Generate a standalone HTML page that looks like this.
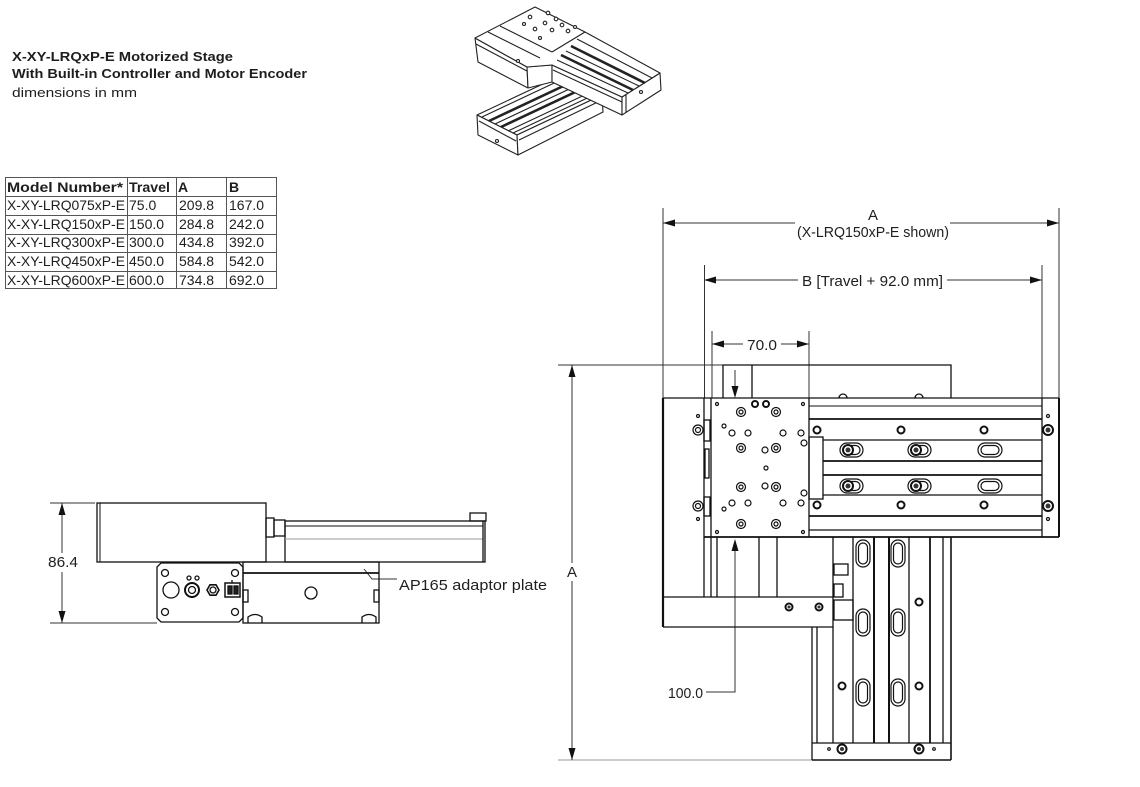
<!DOCTYPE html>
<html><head><meta charset="utf-8"><style>
html,body{margin:0;padding:0;background:#fff;}
svg{display:block;}
text{font-family:"Liberation Sans",sans-serif;fill:#1e1e1e;}
</style></head><body>
<svg width="1140" height="787" viewBox="0 0 1140 787" xmlns="http://www.w3.org/2000/svg">
<rect width="1140" height="787" fill="#fff"/>

<!-- Title -->
<text x="12" y="61" font-size="13" font-weight="bold" textLength="221" lengthAdjust="spacingAndGlyphs">X-XY-LRQxP-E  Motorized Stage</text>
<text x="12" y="78" font-size="13" font-weight="bold" textLength="295" lengthAdjust="spacingAndGlyphs">With Built-in Controller and Motor Encoder</text>
<text x="12" y="97" font-size="13" fill="#333" textLength="125" lengthAdjust="spacingAndGlyphs">dimensions in mm</text>

<!-- Table -->
<g stroke="#555" stroke-width="1" fill="none">
<rect x="5.5" y="177.5" width="271" height="111"/>
<line x1="127.5" y1="177" x2="127.5" y2="289"/>
<line x1="176.5" y1="177" x2="176.5" y2="289"/>
<line x1="226.5" y1="177" x2="226.5" y2="289"/>
<line x1="5" y1="196.5" x2="277" y2="196.5"/>
<line x1="5" y1="215.5" x2="277" y2="215.5"/>
<line x1="5" y1="234.5" x2="277" y2="234.5"/>
<line x1="5" y1="252.5" x2="277" y2="252.5"/>
<line x1="5" y1="271.5" x2="277" y2="271.5"/>
</g>
<g font-size="14">
<text x="7" y="192" font-weight="bold" textLength="116" lengthAdjust="spacingAndGlyphs">Model Number*</text>
<text x="129" y="192" font-weight="bold" textLength="41" lengthAdjust="spacingAndGlyphs">Travel</text>
<text x="178" y="192" font-weight="bold">A</text>
<text x="229" y="192" font-weight="bold">B</text>

<text x="7" y="210" textLength="118" lengthAdjust="spacingAndGlyphs">X-XY-LRQ075xP-E</text>
<text x="129" y="210">75.0</text><text x="179" y="210">209.8</text><text x="229" y="210">167.0</text>
<text x="7" y="229" textLength="118" lengthAdjust="spacingAndGlyphs">X-XY-LRQ150xP-E</text>
<text x="129" y="229">150.0</text><text x="179" y="229">284.8</text><text x="229" y="229">242.0</text>
<text x="7" y="247" textLength="118" lengthAdjust="spacingAndGlyphs">X-XY-LRQ300xP-E</text>
<text x="129" y="247">300.0</text><text x="179" y="247">434.8</text><text x="229" y="247">392.0</text>
<text x="7" y="266" textLength="118" lengthAdjust="spacingAndGlyphs">X-XY-LRQ450xP-E</text>
<text x="129" y="266">450.0</text><text x="179" y="266">584.8</text><text x="229" y="266">542.0</text>
<text x="7" y="285" textLength="118" lengthAdjust="spacingAndGlyphs">X-XY-LRQ600xP-E</text>
<text x="129" y="285">600.0</text><text x="179" y="285">734.8</text><text x="229" y="285">692.0</text>
</g>

<!-- 3D isometric view -->
<g stroke="#222" stroke-width="1.1" fill="#fff" stroke-linejoin="round">
<!-- Y stage -->
<polygon points="477,115 517,135 602,95 562,75"/>
<polygon points="477,115 517,135 518,155 478,135"/>
<polygon points="517,135 602,95 603,112 518,155"/>
<line x1="482" y1="117" x2="567" y2="77"/>
<line x1="489" y1="121" x2="574" y2="81" stroke-width="2.6"/>
<line x1="495" y1="124" x2="580" y2="84"/>
<line x1="501" y1="127" x2="586" y2="87" stroke-width="2.6"/>
<line x1="508" y1="131" x2="593" y2="91"/>
<line x1="513" y1="133" x2="598" y2="93"/>
<line x1="479" y1="121" x2="516" y2="141"/>
<line x1="519" y1="140" x2="602" y2="100"/>
<circle cx="497" cy="141" r="1.5"/>
<!-- X stage -->
<polygon points="475,38 527,67 528,88 478,62"/>
<polygon points="527,67 552,65 552,82 528,88"/>
<polygon points="552,65 622,97 622,115 552,82"/>
<polygon points="622,97 660,73 661,90 622,115"/>
<polygon points="475,38 535,7 585,32 660,73 622,97 552,65 527,67"/>
<line x1="557" y1="60" x2="628" y2="93"/>
<line x1="561" y1="55" x2="633" y2="90" stroke-width="2.6"/>
<line x1="566" y1="51" x2="639" y2="86"/>
<line x1="571" y1="46" x2="645" y2="83" stroke-width="2.6"/>
<line x1="577" y1="39" x2="652" y2="78"/>
<line x1="500" y1="26" x2="552" y2="52"/>
<line x1="552" y1="52" x2="585" y2="32"/>
<line x1="488" y1="32" x2="540" y2="58"/>
<line x1="476" y1="44" x2="527" y2="71"/>
<line x1="553" y1="70" x2="622" y2="102"/>
<line x1="626" y1="95" x2="626" y2="113"/>
<circle cx="641" cy="92" r="1.5"/>
<circle cx="518" cy="61" r="1.5"/>
<g fill="#fff">
<circle cx="548" cy="13" r="1.8"/><circle cx="556" cy="19" r="1.8"/><circle cx="562" cy="25" r="1.8"/>
<circle cx="545" cy="23" r="1.8"/><circle cx="535" cy="29" r="1.8"/><circle cx="552" cy="30" r="1.8"/>
<circle cx="568" cy="31" r="1.8"/><circle cx="530" cy="17" r="1.8"/><circle cx="575" cy="27" r="1.5"/>
<circle cx="540" cy="38" r="1.5"/><circle cx="524" cy="24" r="1.5"/>
</g>
</g>

<!-- ===== Right top view ===== -->
<g stroke="#333" stroke-width="1" fill="none">
<line x1="663" y1="208" x2="663" y2="398"/>
<line x1="1059" y1="208" x2="1059" y2="398"/>
<line x1="704.5" y1="265" x2="704.5" y2="398"/>
<line x1="1042" y1="265" x2="1042" y2="398"/>
<line x1="712" y1="331" x2="712" y2="398"/>
<line x1="809" y1="331" x2="809" y2="398"/>
<line x1="558" y1="365" x2="723" y2="365"/>
<line x1="558" y1="760" x2="812" y2="760" stroke="#999"/>
<line x1="663" y1="223" x2="795" y2="223"/>
<line x1="950" y1="223" x2="1059" y2="223"/>
<line x1="704" y1="280" x2="798" y2="280"/>
<line x1="947" y1="280" x2="1042" y2="280"/>
<line x1="712" y1="344" x2="743" y2="344"/>
<line x1="781" y1="344" x2="809" y2="344"/>
<line x1="572" y1="365" x2="572" y2="563"/>
<line x1="572" y1="581" x2="572" y2="760"/>
<polyline points="706,692 735,692 735,541"/>
<line x1="735" y1="370" x2="735" y2="390"/>
</g>
<g fill="#111" stroke="none">
<polygon points="663,223 675,219.5 675,226.5"/>
<polygon points="1059,223 1047,219.5 1047,226.5"/>
<polygon points="704,280 716,276.5 716,283.5"/>
<polygon points="1042,280 1030,276.5 1030,283.5"/>
<polygon points="712,344 724,340.5 724,347.5"/>
<polygon points="809,344 797,340.5 797,347.5"/>
<polygon points="572,365 568.5,377 575.5,377"/>
<polygon points="572,760 568.5,748 575.5,748"/>
<polygon points="735,539 731.5,551 738.5,551"/>
<polygon points="735,398 731.5,386 738.5,386"/>
</g>
<g font-size="15">
<text x="873" y="220" text-anchor="middle">A</text>
<text x="797" y="237" textLength="152" lengthAdjust="spacingAndGlyphs">(X-LRQ150xP-E shown)</text>
<text x="802" y="286" textLength="141" lengthAdjust="spacingAndGlyphs">B [Travel + 92.0 mm]</text>
<text x="747" y="350" textLength="30" lengthAdjust="spacingAndGlyphs">70.0</text>
<text x="668" y="698" textLength="35" lengthAdjust="spacingAndGlyphs">100.0</text>
<text x="572" y="577" text-anchor="middle">A</text>
</g>

<g stroke="#111" stroke-width="1.3" fill="none">
<path d="M723,398 V365 H951 V398"/>
<line x1="752" y1="365" x2="752" y2="398"/>
<line x1="663" y1="398" x2="1059" y2="398"/>
<line x1="1059" y1="398" x2="1059" y2="537" stroke-width="2"/>
<line x1="663" y1="398" x2="663" y2="627" stroke-width="2.2"/>
<line x1="704" y1="537" x2="1059" y2="537" stroke-width="1.8"/>
<line x1="809" y1="530" x2="1042" y2="530"/>
<line x1="704" y1="398" x2="704" y2="597"/>
<line x1="711" y1="398" x2="711" y2="597"/>
<line x1="809" y1="398" x2="809" y2="537"/>
<line x1="1042" y1="398" x2="1042" y2="537"/>
<line x1="809" y1="406" x2="1042" y2="406" stroke-width="1"/>
<line x1="809" y1="419" x2="1042" y2="419" stroke-width="1.8"/>
<line x1="823" y1="440" x2="1042" y2="440"/>
<line x1="823" y1="461" x2="1042" y2="461" stroke-width="1.8"/>
<line x1="823" y1="475" x2="1042" y2="475" stroke-width="1.8"/>
<line x1="823" y1="495" x2="1042" y2="495"/>
<line x1="809" y1="516" x2="1042" y2="516" stroke-width="1.8"/>
<rect x="809" y="437" width="14" height="62"/>
<rect x="704" y="420" width="6" height="21"/>
<rect x="704" y="497" width="6" height="19"/>
<rect x="705" y="449" width="4" height="29"/>
<path d="M663,627 H833 V537"/>
<line x1="663" y1="597" x2="833" y2="597"/>
<line x1="717" y1="537" x2="717" y2="597"/>
<line x1="759" y1="537" x2="759" y2="597"/>
<line x1="777" y1="537" x2="777" y2="597"/>
<rect x="834" y="564" width="14" height="11"/>
<rect x="834" y="584" width="9" height="13"/>
<rect x="834" y="600" width="19" height="20"/>
<line x1="812" y1="627" x2="812" y2="760"/>
<line x1="817" y1="627" x2="817" y2="743"/>
<line x1="833" y1="627" x2="833" y2="743"/>
<line x1="853" y1="537" x2="853" y2="743"/>
<line x1="874" y1="537" x2="874" y2="743" stroke-width="2"/>
<line x1="889" y1="537" x2="889" y2="743" stroke-width="2"/>
<line x1="909" y1="537" x2="909" y2="743"/>
<line x1="930" y1="537" x2="930" y2="743" stroke-width="1.8"/>
<line x1="943" y1="537" x2="943" y2="743"/>
<line x1="951" y1="537" x2="951" y2="760" stroke-width="1.6"/>
<line x1="812" y1="743" x2="951" y2="743"/>
<line x1="812" y1="760" x2="951" y2="760" stroke-width="1.6"/>
<g stroke-width="1.2">
<rect x="856" y="540" width="14" height="27" rx="7"/><rect x="858.5" y="543" width="9" height="21" rx="4.5"/>
<rect x="891" y="540" width="14" height="27" rx="7"/><rect x="893.5" y="543" width="9" height="21" rx="4.5"/>
<rect x="856" y="609" width="14" height="27" rx="7"/><rect x="858.5" y="612" width="9" height="21" rx="4.5"/>
<rect x="891" y="609" width="14" height="27" rx="7"/><rect x="893.5" y="612" width="9" height="21" rx="4.5"/>
<rect x="856" y="679" width="14" height="27" rx="7"/><rect x="858.5" y="682" width="9" height="21" rx="4.5"/>
<rect x="891" y="679" width="14" height="27" rx="7"/><rect x="893.5" y="682" width="9" height="21" rx="4.5"/>
</g>
<g stroke-width="1.2">
<rect x="840" y="443" width="23" height="14" rx="7"/><rect x="843" y="445.5" width="17" height="9" rx="4.5"/>
<rect x="908" y="443" width="23" height="14" rx="7"/><rect x="911" y="445.5" width="17" height="9" rx="4.5"/>
<rect x="978" y="443" width="24" height="14" rx="7"/><rect x="981" y="445.5" width="18" height="9" rx="4.5"/>
<rect x="840" y="479" width="23" height="14" rx="7"/><rect x="843" y="481.5" width="17" height="9" rx="4.5"/>
<rect x="908" y="479" width="23" height="14" rx="7"/><rect x="911" y="481.5" width="17" height="9" rx="4.5"/>
<rect x="978" y="479" width="24" height="14" rx="7"/><rect x="981" y="481.5" width="18" height="9" rx="4.5"/>
</g>
<path d="M839,398 A4,4 0 0 1 847,398"/>
<path d="M915,398 A4,4 0 0 1 923,398"/>
</g>

<g fill="#fff" stroke="#111" stroke-width="2">
<circle cx="848" cy="450" r="5"/><circle cx="916" cy="450" r="5"/>
<circle cx="848" cy="486" r="5"/><circle cx="916" cy="486" r="5"/>
<circle cx="817" cy="430" r="3.5"/><circle cx="901" cy="430" r="3.5"/><circle cx="984" cy="430" r="3.5"/>
<circle cx="817" cy="505" r="3.5"/><circle cx="901" cy="505" r="3.5"/><circle cx="984" cy="505" r="3.5"/>
<circle cx="1048" cy="430" r="5"/><circle cx="1048" cy="506" r="5"/>
<circle cx="842" cy="686" r="3.5"/><circle cx="919" cy="602" r="3.5"/><circle cx="919" cy="686" r="3.5"/>
<circle cx="842" cy="749" r="4.5"/><circle cx="919" cy="749" r="4.5"/>
<circle cx="789" cy="607" r="3.5"/><circle cx="819" cy="607" r="3.5"/>
<circle cx="755" cy="404" r="3"/><circle cx="766" cy="404" r="3"/>
</g>
<g fill="#333" stroke="none">
<circle cx="848" cy="450" r="2.5"/><circle cx="916" cy="450" r="2.5"/>
<circle cx="848" cy="486" r="2.5"/><circle cx="916" cy="486" r="2.5"/>
<circle cx="1048" cy="430" r="2.5"/><circle cx="1048" cy="506" r="2.5"/>
<circle cx="842" cy="749" r="2"/><circle cx="919" cy="749" r="2"/>
<circle cx="789" cy="607" r="1.5"/><circle cx="819" cy="607" r="1.5"/>
</g>
<g fill="none" stroke="#111" stroke-width="1.2">
<circle cx="698" cy="430" r="5"/><circle cx="698" cy="430" r="2.5"/>
<circle cx="698" cy="506" r="5"/><circle cx="698" cy="506" r="2.5"/>
<circle cx="741" cy="412" r="4.5"/><circle cx="741" cy="412" r="2"/>
<circle cx="776" cy="412" r="4.5"/><circle cx="776" cy="412" r="2"/>
<circle cx="741" cy="448" r="4.5"/><circle cx="741" cy="448" r="2"/>
<circle cx="776" cy="448" r="4.5"/><circle cx="776" cy="448" r="2"/>
<circle cx="741" cy="487" r="4.5"/><circle cx="741" cy="487" r="2"/>
<circle cx="776" cy="487" r="4.5"/><circle cx="776" cy="487" r="2"/>
<circle cx="741" cy="524" r="4.5"/><circle cx="741" cy="524" r="2"/>
<circle cx="776" cy="524" r="4.5"/><circle cx="776" cy="524" r="2"/>
<circle cx="732" cy="433" r="3"/><circle cx="748" cy="433" r="3"/>
<circle cx="783" cy="433" r="3"/><circle cx="801" cy="433" r="3"/>
<circle cx="804" cy="443" r="3"/><circle cx="765" cy="450" r="3"/>
<circle cx="766" cy="468" r="2"/>
<circle cx="765" cy="486" r="3"/><circle cx="804" cy="493" r="3"/>
<circle cx="732" cy="503" r="3"/><circle cx="748" cy="503" r="3"/>
<circle cx="783" cy="503" r="3"/><circle cx="801" cy="503" r="3"/>
<circle cx="724" cy="426" r="2"/><circle cx="724" cy="509" r="2"/>
<circle cx="717" cy="404" r="1.5"/><circle cx="803" cy="404" r="1.5"/>
<circle cx="717" cy="532" r="1.5"/><circle cx="803" cy="532" r="1.5"/>
<circle cx="698" cy="416" r="1.5"/><circle cx="698" cy="519" r="1.5"/>
<circle cx="1048" cy="416" r="1.5"/><circle cx="1048" cy="519" r="1.5"/>
<circle cx="829" cy="749" r="1.3"/><circle cx="934" cy="749" r="1.3"/>
</g>

<!-- ===== Left side view ===== -->
<g stroke="#333" stroke-width="1" fill="none">
<line x1="50" y1="503" x2="95" y2="503"/>
<line x1="50" y1="623" x2="157" y2="623"/>
<line x1="62" y1="503" x2="62" y2="553"/>
<line x1="62" y1="572" x2="62" y2="623"/>
</g>
<g fill="#111">
<polygon points="62,503 58.5,515 65.5,515"/>
<polygon points="62,623 58.5,611 65.5,611"/>
</g>
<text x="48" y="567" font-size="15" textLength="30" lengthAdjust="spacingAndGlyphs">86.4</text>
<text x="399" y="590" font-size="15" textLength="148" lengthAdjust="spacingAndGlyphs">AP165 adaptor plate</text>
<polyline points="364,569 372,579 397,579" fill="none" stroke="#333" stroke-width="1"/>

<g stroke="#111" stroke-width="1.3" fill="none">
<rect x="97" y="503" width="169" height="59"/>
<line x1="100" y1="503" x2="100" y2="562" stroke-width="1"/>
<rect x="266" y="518" width="8" height="19"/>
<rect x="274" y="520" width="11" height="16"/>
<rect x="285" y="521" width="200" height="41"/>
<line x1="285" y1="526" x2="483" y2="526" stroke-width="1"/>
<line x1="285" y1="539" x2="483" y2="539" stroke="#999" stroke-width="1"/>
<line x1="483" y1="521" x2="483" y2="562"/>
<rect x="470" y="513" width="16" height="8"/>
<path d="M161,563 H239 L243,567 V618 L239,622 H161 L157,618 V567 Z"/>
<rect x="243" y="562" width="136" height="61"/>
<line x1="243" y1="573" x2="379" y2="573" stroke-width="1.8"/>
<rect x="243" y="590" width="5" height="12"/>
<rect x="374" y="590" width="5" height="12"/>
<path d="M248,623 V617 Q255,612 262,617 V623"/>
<path d="M362,623 V617 Q369,612 376,617 V623"/>
<circle cx="311" cy="593" r="6"/>
<circle cx="165" cy="573" r="3.5"/><circle cx="235" cy="573" r="3.5"/>
<circle cx="165" cy="612" r="3.5"/><circle cx="235" cy="612" r="3.5"/>
<circle cx="171" cy="590" r="8"/>
<circle cx="192" cy="590" r="7" stroke-width="2"/><circle cx="192" cy="590" r="3.5"/>
<circle cx="189" cy="578" r="2"/><circle cx="197" cy="578" r="2"/>
<polygon points="207,590 210,584.8 216,584.8 219,590 216,595.2 210,595.2" stroke-width="1.6"/>
<circle cx="213" cy="590" r="3"/>
<rect x="225" y="583" width="15" height="14" stroke-width="1.5"/>
<rect x="228" y="586" width="4" height="8" fill="#222"/>
<rect x="234" y="586" width="4" height="8" fill="#222"/>
<line x1="232" y1="580" x2="232" y2="583"/>
</g>
</svg>
</body></html>
